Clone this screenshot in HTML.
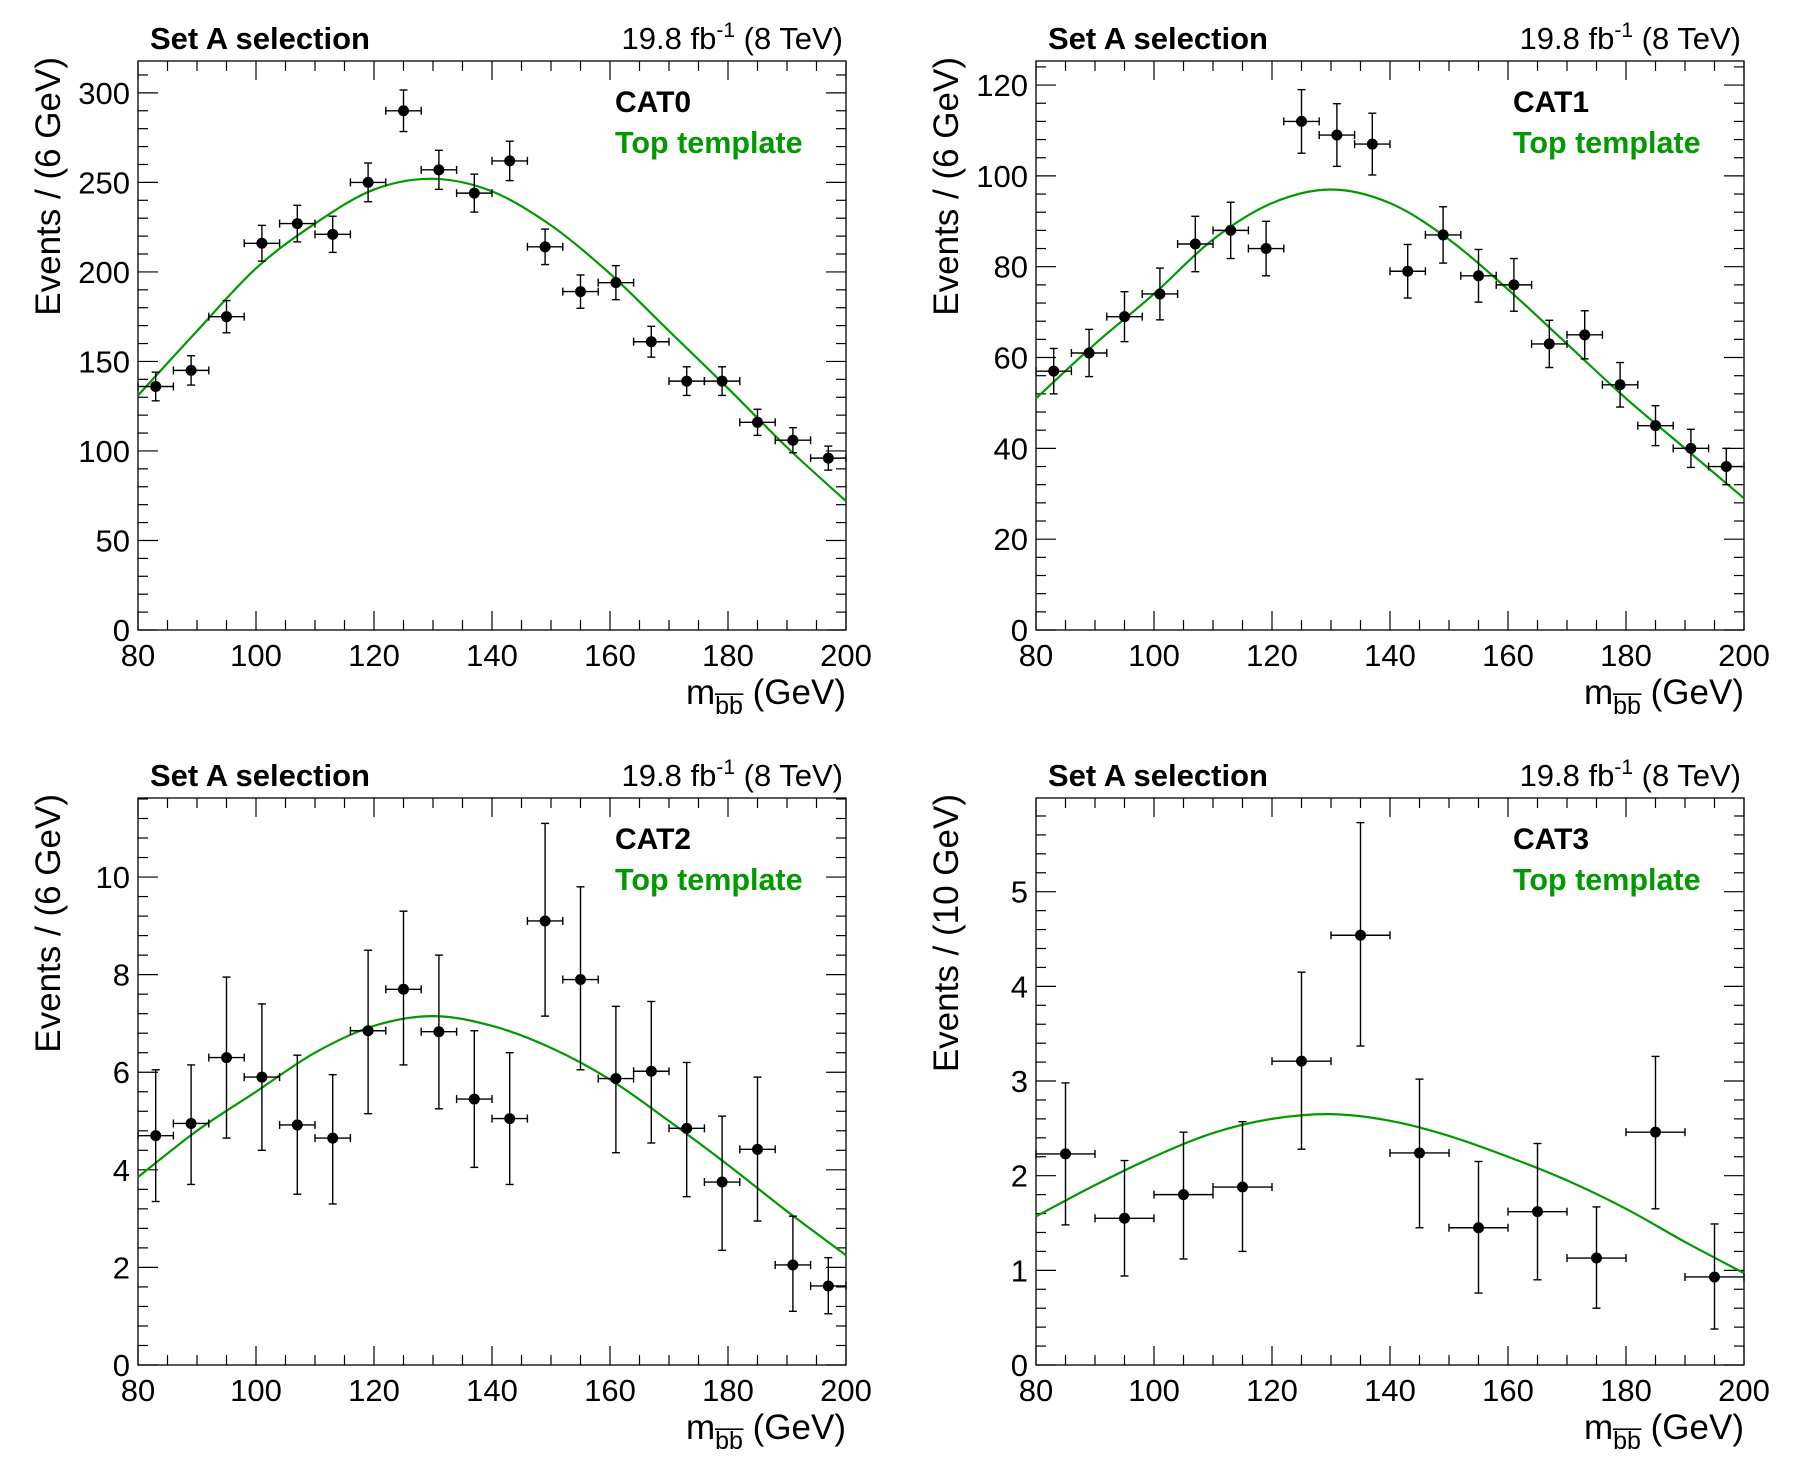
<!DOCTYPE html>
<html><head><meta charset="utf-8"><style>
html,body{margin:0;padding:0;background:#fff;}
svg{display:block;font-family:"Liberation Sans",Arial,sans-serif;}
</style></head>
<body>
<svg id="c" width="1796" height="1472" viewBox="0 0 1796 1472"></svg>
<script>
// ---- data ----
const cat0Centers=[83,89,95,101,107,113,119,125,131,137,143,149,155,161,167,173,179,185,191,197];
const cat0Values=[136,145,175,216,227,221,250,290,257,244,262,214,189,194,161,139,139,116,106,96];
const cat0Errors=[8,8.2,9,10,10.2,10.1,10.8,11.6,10.9,10.6,11,9.9,9.3,9.5,8.6,8,8,7.3,7,6.7];
const cat0CurveX=[80,90,100,110,120,130,140,150,160,170,180,190,200];
const cat0CurveY=[131,167,202,227,246,252,245,226,199,167,135,102,72];

const cat1Centers=[83,89,95,101,107,113,119,125,131,137,143,149,155,161,167,173,179,185,191,197];
const cat1Values=[57,61,69,74,85,88,84,112,109,107,79,87,78,76,63,65,54,45,40,36];
const cat1Errors=[5,5.2,5.5,5.7,6.1,6.2,6,7,6.9,6.8,5.9,6.2,5.8,5.8,5.2,5.3,4.9,4.4,4.2,4];
const cat1CurveX=[80,90,100,110,120,130,140,150,160,170,180,190,200];
const cat1CurveY=[51,63,74,86,94,97,94,86,75,63,51,40,29];

const cat2Centers=[83,89,95,101,107,113,119,125,131,137,143,149,155,161,167,173,179,185,191,197];
const cat2Values=[4.7,4.95,6.3,5.9,4.92,4.65,6.85,7.7,6.83,5.45,5.05,9.1,7.9,5.87,6.02,4.85,3.75,4.42,2.05,1.62];
const cat2Lo=[3.35,3.7,4.65,4.4,3.5,3.3,5.15,6.15,5.25,4.05,3.7,7.15,6.05,4.35,4.55,3.45,2.35,2.95,1.1,1.05];
const cat2Hi=[6.05,6.15,7.95,7.4,6.35,5.95,8.5,9.3,8.4,6.85,6.4,11.1,9.8,7.35,7.45,6.2,5.1,5.9,3.05,2.2];
const cat2CurveX=[80,90,100,110,120,130,140,150,160,170,180,190,200];
const cat2CurveY=[3.85,4.8,5.6,6.4,6.95,7.15,6.95,6.5,5.85,5.0,4.1,3.15,2.25];

const cat3Centers=[85,95,105,115,125,135,145,155,165,175,185,195];
const cat3Values=[2.23,1.55,1.8,1.88,3.21,4.54,2.24,1.45,1.62,1.13,2.46,0.93];
const cat3Lo=[1.48,0.94,1.12,1.2,2.28,3.37,1.45,0.76,0.9,0.6,1.65,0.38];
const cat3Hi=[2.98,2.16,2.46,2.57,4.15,5.73,3.02,2.15,2.34,1.67,3.26,1.49];
const cat3CurveX=[80,90,100,110,120,130,140,150,160,170,180,190,200];
const cat3CurveY=[1.57,1.9,2.2,2.45,2.6,2.65,2.58,2.42,2.2,1.95,1.65,1.3,0.97];

const xTicks=[80,100,120,140,160,180,200];

const NS="http://www.w3.org/2000/svg";
const svg=document.getElementById('c');
function mk(tag,attrs,parent){const e=document.createElementNS(NS,tag);for(const k in attrs)e.setAttribute(k,attrs[k]);(parent||svg).appendChild(e);return e;}

function panel(o){
  const g=mk('g',{});
  
  
  const L=o.x0,R=o.x1,T=o.y0,B=o.y1;
  const sx=v=>L+(v-80)/(120)*(R-L);
  const sy=v=>B-(v/o.ymax)*(B-T);
  const fr=mk('rect',{x:L,y:T,width:R-L,height:B-T,fill:'none',stroke:'#000','stroke-width':1.3},g);
  
  
  const tk=mk('g',{stroke:'#000','stroke-width':1.2},g);
  
  
  for(let v=80;v<=200.01;v+=5){
    const maj=(v%20===0);const len=maj?19:10;const x=sx(v);
    mk('line',{x1:x,y1:B,x2:x,y2:B-len},tk);
    mk('line',{x1:x,y1:T,x2:x,y2:T+len},tk);
  }
  const nm=Math.round(o.ymax/o.ymin)+1;
  for(let i=0;i<nm;i++){
    const v=i*o.ymin; if(v>o.ymax)break;
    const maj=Math.abs(v/o.ymaj-Math.round(v/o.ymaj))<1e-6;const len=maj?20:10;const y=sy(v);
    mk('line',{x1:L,y1:y,x2:L+len,y2:y},tk);
    mk('line',{x1:R,y1:y,x2:R-len,y2:y},tk);
  }
  xTicks.forEach(v=>{
    const t=mk('text',{x:sx(v),y:B+36,'font-size':31,'text-anchor':'middle'},g);
    t.textContent=v;
    
    
  });
  o.yTicks.forEach(v=>{
    const t=mk('text',{x:L-8,y:sy(v)+11,'font-size':31,'text-anchor':'end'},g);
    t.textContent=v;
    
    
  });
  const yt=mk('text',{x:0,y:0,'font-size':35,'text-anchor':'end',transform:`translate(${L-78},${T-4}) rotate(-90)`},g);
  yt.textContent=o.ytitle;
  
  
  const xt=mk('text',{x:R,y:B+74,'font-size':35,'text-anchor':'end'},g);
  xt.innerHTML='m<tspan font-size="25" dy="10">b\u0305b\u0305</tspan><tspan dy="-10"> (GeV)</tspan>';
  
  
  const st=mk('text',{x:L+12,y:T-12,'font-size':31,'font-weight':'bold'},g);
  st.textContent='Set A selection';
  
  
  const lu=mk('text',{x:R-3,y:T-12,'font-size':31,'text-anchor':'end'},g);
  lu.innerHTML='19.8 fb<tspan font-size="21" dy="-12">-1</tspan><tspan dy="12"> (8 TeV)</tspan>';
  
  
  const cl=mk('text',{x:L+477,y:T+51,'font-size':30,'font-weight':'bold'},g);
  cl.textContent=o.cat;
  
  
  const tl=mk('text',{x:L+477,y:T+92,'font-size':30.5,'font-weight':'bold',fill:'#009900'},g);
  tl.textContent='Top template';
  
  
  const px=o.cx.map(sx),py=o.cy.map(sy);
  let d=`M${px[0]},${py[0]}`;
  for(let i=0;i<px.length-1;i++){
    const p0=i>0?i-1:i,p3=i+2<px.length?i+2:i+1;
    const c1x=px[i]+(px[i+1]-px[p0])/6,c1y=py[i]+(py[i+1]-py[p0])/6;
    const c2x=px[i+1]-(px[p3]-px[i])/6,c2y=py[i+1]-(py[p3]-py[i])/6;
    d+=` C${c1x},${c1y} ${c2x},${c2y} ${px[i+1]},${py[i+1]}`;
  }
  const cu=mk('path',{d:d,fill:'none',stroke:'#009900','stroke-width':2.2},g);
  
  
  o.xc.forEach((c,i)=>{
    const pg=mk('g',{stroke:'#000','stroke-width':1.4},g);
    
    
    const x=sx(c),y=sy(o.v[i]);
    const xl=sx(c-o.hw),xr=sx(c+o.hw);
    mk('line',{x1:xl,y1:y,x2:xr,y2:y},pg);
    mk('line',{x1:xl,y1:y-4,x2:xl,y2:y+4},pg);
    mk('line',{x1:xr,y1:y-4,x2:xr,y2:y+4},pg);
    const ylo=sy(o.lo[i]),yhi=sy(o.hi[i]);
    mk('line',{x1:x,y1:ylo,x2:x,y2:yhi},pg);
    mk('line',{x1:x-4,y1:ylo,x2:x+4,y2:ylo},pg);
    mk('line',{x1:x-4,y1:yhi,x2:x+4,y2:yhi},pg);
    mk('circle',{cx:x,cy:y,r:5.5,fill:'#000',stroke:'none'},pg);
  });
}
const TX0=138,TX1=846,RX0=1036,RX1=1744,TY0=61,TY1=630,BY0=798,BY1=1365;
panel({name:'panel-cat0',x0:TX0,x1:TX1,y0:TY0,y1:TY1,ymax:317.8,ymaj:50,ymin:10,yTicks:[0,50,100,150,200,250,300],
  ytitle:'Events / (6 GeV)',cat:'CAT0',xc:cat0Centers,v:cat0Values,lo:cat0Values.map((v,i)=>v-cat0Errors[i]),hi:cat0Values.map((v,i)=>v+cat0Errors[i]),hw:3,cx:cat0CurveX,cy:cat0CurveY});
panel({name:'panel-cat1',x0:RX0,x1:RX1,y0:TY0,y1:TY1,ymax:125.3,ymaj:20,ymin:4,yTicks:[0,20,40,60,80,100,120],
  ytitle:'Events / (6 GeV)',cat:'CAT1',xc:cat1Centers,v:cat1Values,lo:cat1Values.map((v,i)=>v-cat1Errors[i]),hi:cat1Values.map((v,i)=>v+cat1Errors[i]),hw:3,cx:cat1CurveX,cy:cat1CurveY});
panel({name:'panel-cat2',x0:TX0,x1:TX1,y0:BY0,y1:BY1,ymax:11.62,ymaj:2,ymin:0.4,yTicks:[0,2,4,6,8,10],
  ytitle:'Events / (6 GeV)',cat:'CAT2',xc:cat2Centers,v:cat2Values,lo:cat2Lo,hi:cat2Hi,hw:3,cx:cat2CurveX,cy:cat2CurveY});
panel({name:'panel-cat3',x0:RX0,x1:RX1,y0:BY0,y1:BY1,ymax:5.99,ymaj:1,ymin:0.2,yTicks:[0,1,2,3,4,5],
  ytitle:'Events / (10 GeV)',cat:'CAT3',xc:cat3Centers,v:cat3Values,lo:cat3Lo,hi:cat3Hi,hw:5,cx:cat3CurveX,cy:cat3CurveY});
</script>
</body></html>
